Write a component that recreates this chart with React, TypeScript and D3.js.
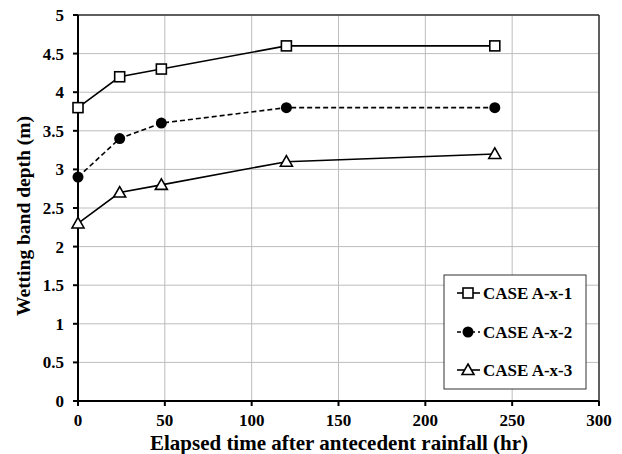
import React from "react";
import * as d3 from "d3";

const hours = [0, 24, 48, 120, 240];
const caseA1 = [3.8, 4.2, 4.3, 4.6, 4.6];
const caseA2 = [2.9, 3.4, 3.6, 3.8, 3.8];
const caseA3 = [2.3, 2.7, 2.8, 3.1, 3.2];
const seriesNames = ["CASE A-x-1", "CASE A-x-2", "CASE A-x-3"];
const xTicks = [0, 50, 100, 150, 200, 250, 300];
const yTicks = [0, 0.5, 1, 1.5, 2, 2.5, 3, 3.5, 4, 4.5, 5];

const W = 622, H = 454;
const L = 78, R = 599, T = 15, B = 401;
const FONT = '"Liberation Serif", "Times New Roman", "DejaVu Serif", serif';
const TS: React.CSSProperties = { fontFamily: FONT, fontWeight: 700 };

function Marker({ type, x, y }: { type: string; x: number; y: number }) {
  if (type === "square")
    return <rect x={x - 5} y={y - 5} width={10} height={10} fill="#fff" stroke="#000" strokeWidth={1.6} />;
  if (type === "circle") return <circle cx={x} cy={y} r={5.5} fill="#000" />;
  const s = 6;
  return (
    <path
      d={`M${x},${y - s}L${x + s},${y + s * 0.75}L${x - s},${y + s * 0.75}Z`}
      fill="#fff"
      stroke="#000"
      strokeWidth={1.6}
    />
  );
}

export default function App() {
  const x = d3.scaleLinear().domain([0, 300]).range([L, R]);
  const y = d3.scaleLinear().domain([0, 5]).range([B, T]);
  const line = d3
    .line<[number, number]>()
    .x((d) => x(d[0]))
    .y((d) => y(d[1]));
  const series = [
    { name: seriesNames[0], vals: caseA1, marker: "square", dash: undefined },
    { name: seriesNames[1], vals: caseA2, marker: "circle", dash: "5,3" },
    { name: seriesNames[2], vals: caseA3, marker: "triangle", dash: undefined },
  ];
  const legY = [293, 332, 370];
  return (
    <svg width={W} height={H} style={{ position: "absolute", left: 0, top: 0, background: "#fff" }}>
      <rect x={0} y={0} width={W} height={H} fill="#fff" />
      {xTicks.map((t) => (
        <line key={"gx" + t} x1={x(t)} x2={x(t)} y1={T} y2={B} stroke="#bdbdbd" strokeWidth={1} />
      ))}
      {yTicks.map((t) => (
        <line key={"gy" + t} x1={L} x2={R} y1={y(t)} y2={y(t)} stroke="#bdbdbd" strokeWidth={1} />
      ))}
      <line x1={L} x2={R} y1={T} y2={T} stroke="#333" strokeWidth={1.5} />
      <line x1={R} x2={R} y1={T} y2={B} stroke="#333" strokeWidth={1.5} />
      <line x1={L} x2={L} y1={T} y2={B + 1} stroke="#000" strokeWidth={2} />
      <line x1={L - 1} x2={R} y1={B} y2={B} stroke="#000" strokeWidth={2} />
      {xTicks.map((t) => (
        <g key={"tx" + t}>
          <line x1={x(t)} x2={x(t)} y1={B} y2={B + 5} stroke="#000" strokeWidth={2} />
          <text x={x(t)} y={426} textAnchor="middle" fontSize={17} style={TS}>
            {t}
          </text>
        </g>
      ))}
      {yTicks.map((t) => (
        <g key={"ty" + t}>
          <line x1={L - 5} x2={L} y1={y(t)} y2={y(t)} stroke="#000" strokeWidth={2} />
          <text x={64} y={y(t) + 6} textAnchor="end" fontSize={17} style={TS}>
            {t}
          </text>
        </g>
      ))}
      {series.map((s) => {
        const pts = hours.map((h, i) => [h, s.vals[i]] as [number, number]);
        return (
          <g key={s.name}>
            <path d={line(pts) || ""} fill="none" stroke="#000" strokeWidth={1.6} strokeDasharray={s.dash} />
            {pts.map((p, i) => (
              <Marker key={i} type={s.marker} x={x(p[0])} y={y(p[1])} />
            ))}
          </g>
        );
      })}
      <rect x={444} y={275} width={142} height={114} fill="#fff" stroke="#333" strokeWidth={1} />
      {series.map((s, i) => (
        <g key={"lg" + i}>
          <line x1={457} x2={480} y1={legY[i]} y2={legY[i]} stroke="#000" strokeWidth={1.6} strokeDasharray={s.dash ? "4,3" : undefined} />
          <Marker type={s.marker} x={468} y={legY[i]} />
          <text x={483} y={legY[i] + 6} fontSize={17} style={TS}>
            {s.name}
          </text>
        </g>
      ))}
      <text x={339} y={450} textAnchor="middle" fontSize={21} style={TS}>
        Elapsed time after antecedent rainfall (hr)
      </text>
      <text transform={`translate(30,216) rotate(-90)`} textAnchor="middle" fontSize={19.5} style={TS}>
        Wetting band depth (m)
      </text>
    </svg>
  );
}
